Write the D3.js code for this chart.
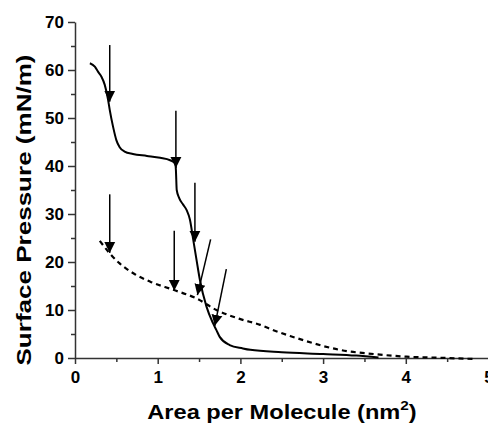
<!DOCTYPE html>
<html lang="en">
<head>
<meta charset="UTF-8">
<title>Isotherms</title>
<script src="https://d3js.org/d3.v7.min.js"></script>
<style>
  body { margin: 0; background: white; }
  svg text { font-family: "Liberation Sans", Arial, sans-serif; font-weight: bold; }
</style>
</head>
<body>
<svg id="chart" width="488" height="431"></svg>
<script>
// solid isotherm
var solidArea = [0.18, 0.24, 0.28, 0.32, 0.36, 0.40, 0.42, 0.46, 0.50, 0.54, 0.60, 0.70, 0.87, 1.03, 1.15, 1.21, 1.22, 1.23, 1.26, 1.31, 1.35, 1.39, 1.43, 1.47, 1.51, 1.59, 1.67, 1.71, 1.75, 1.87, 2.03, 2.12, 2.5, 3.0, 3.4, 3.67];
var solidPressure = [61.4, 60.7, 59.6, 58.6, 56.9, 53.8, 51.7, 48.2, 45.4, 43.9, 43.0, 42.5, 42.1, 41.7, 41.2, 40.6, 39.2, 35.0, 33.3, 31.9, 30.8, 28.8, 24.6, 20.4, 16.3, 10.7, 7.2, 5.8, 4.4, 2.7, 2.0, 1.7, 1.2, 0.83, 0.5, 0.1];

// dashed isotherm
var dashedArea = [0.30, 0.42, 0.54, 0.71, 0.91, 1.19, 1.47, 1.71, 2.0, 2.24, 2.40, 2.60, 2.80, 3.0, 3.20, 3.61, 4.01, 4.41, 4.82];
var dashedPressure = [24.4, 21.8, 19.7, 17.6, 15.9, 14.2, 12.4, 10.0, 8.1, 6.9, 5.8, 4.6, 3.5, 2.5, 1.7, 0.83, 0.28, 0.05, -0.2];

// arrows: tail (x0,y0) -> tip (x1,y1)
var arrowX0 = [0.42, 1.22, 1.45, 0.42, 1.20, 1.64, 1.83];
var arrowY0 = [65.2, 51.5, 36.5, 34.1, 26.5, 24.7, 18.5];
var arrowX1 = [0.42, 1.22, 1.45, 0.42, 1.20, 1.48, 1.69];
var arrowY1 = [53.4, 39.6, 24.2, 21.9, 14.0, 13.1, 6.7];

var xTicks = [0, 1, 2, 3, 4, 5];
var yTicks = [0, 10, 20, 30, 40, 50, 60, 70];

var svg = d3.select("#chart");

var x = d3.scaleLinear().domain([0, 5]).range([75, 488.5]);
var y = d3.scaleLinear().domain([0, 70]).range([358, 22]);

// arrowhead
svg.append("defs").append("marker")
  .attr("id", "head")
  .attr("viewBox", "0 0 10 10")
  .attr("refX", 10).attr("refY", 5)
  .attr("markerWidth", 11).attr("markerHeight", 12)
  .attr("markerUnits", "userSpaceOnUse")
  .attr("orient", "auto")
  .append("path")
  .attr("d", "M0,0 L10,5 L0,10 Z")
  .attr("fill", "black");

// axes
var xAxis = svg.append("g")
  .attr("transform", "translate(0," + y(0) + ")")
  .call(d3.axisBottom(x).tickValues(xTicks).tickFormat(d3.format("d")).tickSize(6).tickSizeOuter(0));
svg.append("g")
  .attr("transform", "translate(0," + y(0) + ")")
  .call(d3.axisBottom(x).tickValues([0.5, 1.5, 2.5, 3.5, 4.5]).tickFormat("").tickSize(4).tickSizeOuter(0))
  .select(".domain").remove();

var yAxis = svg.append("g")
  .attr("transform", "translate(" + x(0) + ",0)")
  .call(d3.axisLeft(y).tickValues(yTicks).tickSize(7).tickSizeOuter(0));
svg.append("g")
  .attr("transform", "translate(" + x(0) + ",0)")
  .call(d3.axisLeft(y).tickValues([5, 15, 25, 35, 45, 55, 65]).tickFormat("").tickSize(4).tickSizeOuter(0))
  .select(".domain").remove();

svg.selectAll(".domain, .tick line").attr("stroke", "#333").attr("stroke-width", 1.5);
xAxis.selectAll("text").attr("font-size", 17).attr("fill", "black").attr("dy", "0.95em");
yAxis.selectAll("text").attr("font-size", 17).attr("fill", "black").attr("x", -11);

// curves
var solidData = solidArea.map(function(d, i) { return [d, solidPressure[i]]; });
var dashedData = dashedArea.map(function(d, i) { return [d, dashedPressure[i]]; });

var line = d3.line()
  .x(function(d) { return x(d[0]); })
  .y(function(d) { return y(d[1]); })
  .curve(d3.curveMonotoneX);

svg.append("path")
  .attr("d", line(solidData))
  .attr("fill", "none")
  .attr("stroke", "black")
  .attr("stroke-width", 2);

svg.append("path")
  .attr("d", line(dashedData))
  .attr("fill", "none")
  .attr("stroke", "black")
  .attr("stroke-width", 2.2)
  .attr("stroke-dasharray", "5,4");

// arrows
arrowX0.forEach(function(d, i) {
  svg.append("line")
    .attr("x1", x(d)).attr("y1", y(arrowY0[i]))
    .attr("x2", x(arrowX1[i])).attr("y2", y(arrowY1[i]))
    .attr("stroke", "black")
    .attr("stroke-width", 1.5)
    .attr("marker-end", "url(#head)");
});

// axis titles (font is wider in the original, so stretch along the text)
svg.append("text")
  .attr("transform", "translate(31,210) rotate(-90) scale(1.24,1)")
  .attr("text-anchor", "middle")
  .attr("font-size", 21)
  .text("Surface Pressure (mN/m)");

var xt = svg.append("text")
  .attr("transform", "translate(282,419) scale(1.18,1)")
  .attr("text-anchor", "middle")
  .attr("font-size", 20);
xt.append("tspan").text("Area per Molecule (nm");
xt.append("tspan").attr("dy", -9).attr("font-size", 13).text("2");
xt.append("tspan").attr("dy", 9).text(")");
</script>
</body>
</html>
